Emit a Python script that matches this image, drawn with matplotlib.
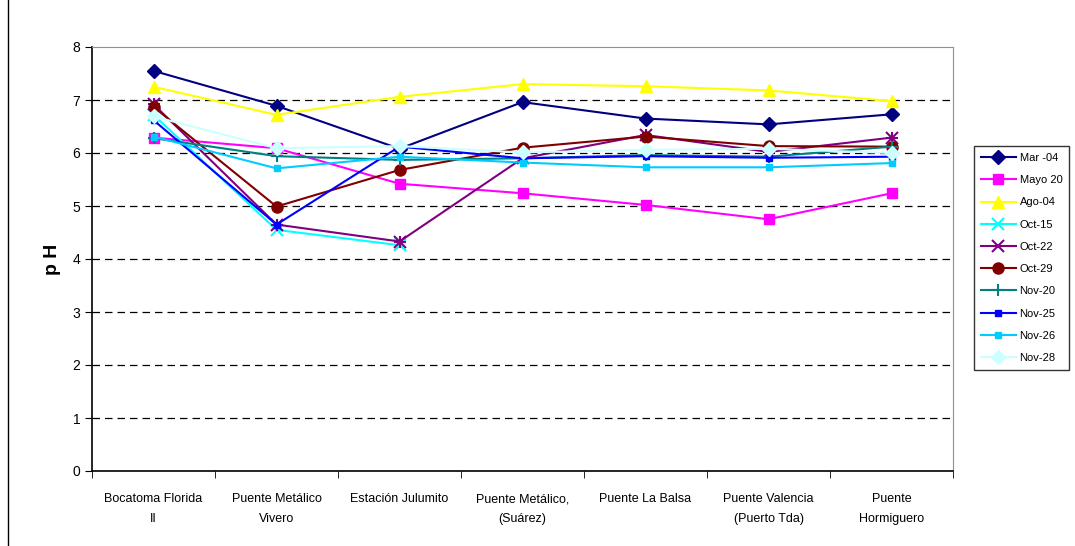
import numpy as np
import matplotlib.pyplot as plt
from matplotlib.patches import Rectangle

plt.rcParams['font.family'] = ['Liberation Sans', 'DejaVu Sans']

# Data
sites = ["Bocatoma Florida\nII", "Puente Metálico\nVivero", "Estación Julumito",
         "Puente Metálico,\n(Suárez)", "Puente La Balsa", "Puente Valencia\n(Puerto Tda)",
         "Puente\nHormiguero"]

mar_04 = [7.55, 6.89, 6.08, 6.96, 6.65, 6.54, 6.73]
mayo_20 = [6.29, 6.09, 5.42, 5.24, 5.02, 4.75, 5.24]
ago_04 = [7.25, 6.72, 7.06, 7.30, 7.26, 7.18, 6.98]
oct_15 = [6.72, 4.55, 4.26, np.nan, np.nan, np.nan, np.nan]
oct_22 = [6.92, 4.65, 4.33, 5.90, 6.34, 6.02, 6.29]
oct_29 = [6.87, 4.99, 5.68, 6.10, 6.31, 6.13, 6.12]
nov_20 = [6.28, 5.94, 5.87, 5.90, 5.96, 5.93, 6.12]
nov_25 = [6.62, 4.65, 6.12, 5.90, 5.94, 5.91, 5.93]
nov_26 = [6.31, 5.71, 5.93, 5.82, 5.73, 5.73, 5.81]
nov_28 = [6.69, 6.09, 6.13, 6.01, 6.06, 6.08, 6.00]

series = [
    ("Mar -04", mar_04, "#000080", "D", 7),
    ("Mayo 20", mayo_20, "#FF00FF", "s", 7),
    ("Ago-04", ago_04, "#FFFF00", "^", 8),
    ("Oct-15", oct_15, "#00FFFF", "x", 8),
    ("Oct-22", oct_22, "#800080", "x", 8),
    ("Oct-29", oct_29, "#800000", "o", 8),
    ("Nov-20", nov_20, "#008080", "+", 9),
    ("Nov-25", nov_25, "#0000FF", "s", 4),
    ("Nov-26", nov_26, "#00CCFF", "s", 5),
    ("Nov-28", nov_28, "#CCFFFF", "D", 7),
]

fig = plt.figure(figsize=(10.75, 5.46), dpi=100)
ax = fig.add_axes([92/1075, 1-471/546, 861/1075, 424/546])

x = np.arange(len(sites))
for name, vals, col, mk, ms in series:
    ax.plot(x, vals, color=col, marker=mk, markersize=ms, linewidth=1.5,
            markeredgewidth=1.5 if mk in ("x", "+") else 1, label=name, zorder=3)
    if name == "Oct-22":
        # asterisk: add plus on top of x
        ax.plot(x, vals, color=col, marker="+", markersize=ms + 1, linestyle="none",
                markeredgewidth=1.5, zorder=3)

ax.set_xlim(-0.5, len(sites) - 0.5)
ax.set_ylim(0, 8)
ax.set_yticks(range(0, 9))
ax.set_xticks(x)
ax.set_xticklabels(sites, fontsize=9, linespacing=1.9)
ax.set_xticks(np.arange(-0.5, len(sites)), minor=True)
ax.tick_params(axis="x", which="major", length=0, pad=16)
ax.tick_params(axis="x", which="minor", length=5, direction="out")
ax.tick_params(axis="y", labelsize=10, length=5, direction="out")
for v in range(1, 8):
    ax.axhline(v, color="black", linestyle=(0, (6, 4)), linewidth=0.9, zorder=1)

ax.spines["top"].set_color("#909090")
ax.spines["right"].set_color("#909090")
ax.spines["left"].set_linewidth(1.2)
ax.spines["bottom"].set_linewidth(1.2)
ax.set_ylabel("p H", fontsize=14, fontweight="bold", labelpad=8)

leg = ax.legend(loc="center left", bbox_to_anchor=(974/1075, 1-258/546),
                bbox_transform=fig.transFigure, fontsize=8, frameon=True,
                fancybox=False, edgecolor="black", handlelength=3.2,
                labelspacing=1.1, borderpad=0.6, handletextpad=0.3,
                borderaxespad=0)
leg.get_frame().set_linewidth(1)

# outer chart border
fig.patches.append(Rectangle((8/1075, -0.01), 1.1, 1.1, transform=fig.transFigure,
                             fill=False, edgecolor="black", linewidth=1))

fig.savefig("out.png", dpi=100)
